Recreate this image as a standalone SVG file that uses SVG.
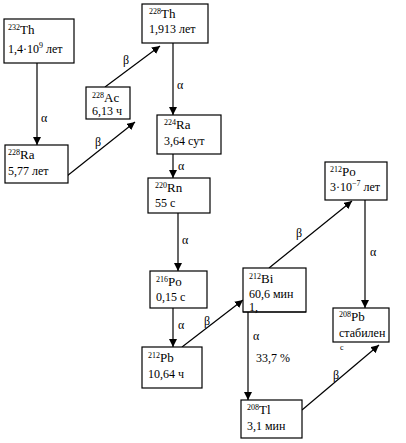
<svg xmlns="http://www.w3.org/2000/svg" width="406" height="443" viewBox="0 0 406 443">
<style>
rect.b{fill:#fff;stroke:#000;stroke-width:1.2}
text{font-family:"Liberation Serif","Times New Roman",serif;font-size:12px;fill:#000}
.s{font-size:8px}
.e{font-size:13px}
.l{font-size:12px}
#connectors line{stroke:#000;stroke-width:1.2;fill:none}
</style>
<defs>
<marker id="ah" viewBox="0 0 10 10" refX="10" refY="5" markerWidth="8" markerHeight="8" markerUnits="userSpaceOnUse" orient="auto">
<path d="M0,0 L10,5 L0,10 z" fill="#000"/>
</marker>
</defs>
<rect width="406" height="443" fill="#fff"/>
<g id="connectors">
<line x1="37" y1="63" x2="37" y2="145" marker-end="url(#ah)"/>
<text x="41" y="122" class="l">α</text>
<line x1="67" y1="176" x2="135" y2="122" marker-end="url(#ah)"/>
<text x="95" y="146" class="l">β</text>
<line x1="105" y1="87" x2="160" y2="46" marker-end="url(#ah)"/>
<text x="123" y="64" class="l">β</text>
<line x1="173" y1="43" x2="173" y2="115" marker-end="url(#ah)"/>
<text x="177" y="89" class="l">α</text>
<line x1="173" y1="154" x2="173" y2="178" marker-end="url(#ah)"/>
<text x="178" y="170" class="l">α</text>
<line x1="178" y1="213" x2="178" y2="271" marker-end="url(#ah)"/>
<text x="182" y="244" class="l">α</text>
<line x1="173" y1="308" x2="173" y2="347" marker-end="url(#ah)"/>
<text x="178" y="329" class="l">α</text>
<line x1="182" y1="347" x2="243" y2="300" marker-end="url(#ah)"/>
<text x="204" y="325" class="l">β</text>
<line x1="269" y1="268" x2="352" y2="201" marker-end="url(#ah)"/>
<text x="296" y="237" class="l">β</text>
<line x1="365" y1="200" x2="365" y2="308" marker-end="url(#ah)"/>
<text x="370" y="256" class="l">α</text>
<line x1="248" y1="312" x2="248" y2="400" marker-end="url(#ah)"/>
<text x="253" y="340" class="l">α</text>
<text x="256" y="362">33,7 %</text>
<line x1="302" y1="410" x2="379" y2="345" marker-end="url(#ah)"/>
<text x="333" y="379" class="l">β</text>
</g>
<g id="th232">
<rect class="b" x="4" y="19" width="70" height="44"/>
<text x="8" y="34"><tspan class="s" dy="-4">232</tspan><tspan class="e" dy="4">Th</tspan></text>
<text x="8" y="53">1,4·10<tspan class="s" dy="-5">9</tspan><tspan dy="5"> лет</tspan></text>
</g>
<g id="ra228">
<rect class="b" x="5" y="145" width="63" height="38"/>
<text x="8" y="159"><tspan class="s" dy="-4">228</tspan><tspan class="e" dy="4">Ra</tspan></text>
<text x="8" y="175">5,77 лет</text>
</g>
<g id="ac228">
<rect class="b" x="86" y="87" width="44" height="32"/>
<text x="92" y="102"><tspan class="s" dy="-4">228</tspan><tspan class="e" dy="4">Ac</tspan></text>
<text x="92" y="115">6,13 ч</text>
</g>
<g id="th228">
<rect class="b" x="142" y="4" width="66" height="39"/>
<text x="149" y="18"><tspan class="s" dy="-4">228</tspan><tspan class="e" dy="4">Th</tspan></text>
<text x="149" y="33">1,913 лет</text>
</g>
<g id="ra224">
<rect class="b" x="157" y="115" width="64" height="39"/>
<text x="164" y="129"><tspan class="s" dy="-4">224</tspan><tspan class="e" dy="4">Ra</tspan></text>
<text x="164" y="145">3,64 сут</text>
</g>
<g id="rn220">
<rect class="b" x="148" y="178" width="62" height="35"/>
<text x="155" y="192"><tspan class="s" dy="-4">220</tspan><tspan class="e" dy="4">Rn</tspan></text>
<text x="155" y="207">55 с</text>
</g>
<g id="po216">
<rect class="b" x="150" y="271" width="57" height="37"/>
<text x="156" y="286"><tspan class="s" dy="-4">216</tspan><tspan class="e" dy="4">Po</tspan></text>
<text x="156" y="301">0,15 с</text>
</g>
<g id="pb212">
<rect class="b" x="142" y="347" width="60" height="41"/>
<text x="148" y="362"><tspan class="s" dy="-4">212</tspan><tspan class="e" dy="4">Pb</tspan></text>
<text x="148" y="378">10,64 ч</text>
</g>
<g id="bi212">
<rect class="b" x="243" y="268" width="63" height="44"/>
<text x="249" y="283"><tspan class="s" dy="-4">212</tspan><tspan class="e" dy="4">Bi</tspan></text>
<text x="249" y="298">60,6 мин</text>
<text x="249" y="311">1,</text>
<line x1="243" y1="312" x2="306" y2="312" stroke="#000" stroke-width="1.2"/>
</g>
<g id="po212">
<rect class="b" x="325" y="162" width="62" height="38"/>
<text x="330" y="176"><tspan class="s" dy="-4">212</tspan><tspan class="e" dy="4">Po</tspan></text>
<text x="330" y="191">3·10<tspan class="s" dy="-5">−7</tspan><tspan dy="5"> лет</tspan></text>
</g>
<g id="pb208">
<rect class="b" x="333" y="308" width="56" height="34"/>
<text x="339" y="321"><tspan class="s" dy="-4">208</tspan><tspan class="e" dy="4">Pb</tspan></text>
<text x="339" y="337">стабилен</text>
<text x="340" y="350" class="s">с</text>
</g>
<g id="tl208">
<rect class="b" x="241" y="400" width="61" height="38"/>
<text x="247" y="414"><tspan class="s" dy="-4">208</tspan><tspan class="e" dy="4">Tl</tspan></text>
<text x="247" y="430">3,1 мин</text>
</g>
</svg>
